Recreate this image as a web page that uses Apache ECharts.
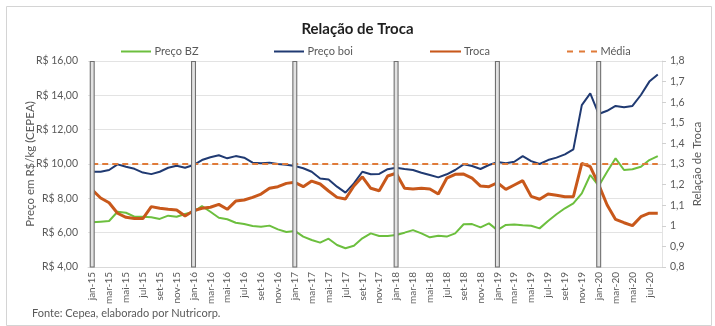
<!DOCTYPE html>
<html>
<head>
<meta charset="utf-8">
<script src="https://cdn.jsdelivr.net/npm/echarts@6/dist/echarts.min.js"></script>
<style>
  html, body { margin: 0; padding: 0; background: #ffffff; }
  #chart { width: 715px; height: 326px; }
</style>
</head>
<body>
<div id="chart"></div>
<script>
// Month labels (Portuguese abbreviations) and years covered: jan-15 .. ago-20
const monthNames = ['jan', 'fev', 'mar', 'abr', 'mai', 'jun', 'jul', 'ago', 'set', 'out', 'nov', 'dez'];
const years = ['15', '16', '17', '18', '19', '20'];
const lastMonthOfLastYear = 8; // series ends in ago-20

// Preço BZ (R$/kg, CEPEA)
const precoBZ = [
  6.60, 6.64, 6.68, 7.22, 7.16, 6.93, 6.93, 6.90, 6.80, 6.99, 6.93, 7.09,
  7.20, 7.55, 7.22, 6.87, 6.78, 6.58, 6.50, 6.39, 6.35, 6.41, 6.19, 6.04,
  6.10, 5.77, 5.57, 5.42, 5.65, 5.28, 5.09, 5.24, 5.67, 5.96, 5.81, 5.81,
  5.86, 6.00, 6.15, 5.96, 5.73, 5.82, 5.77, 5.96, 6.49, 6.50, 6.31, 6.54,
  6.15, 6.45, 6.48, 6.43, 6.40, 6.25, 6.68, 7.07, 7.42, 7.71, 8.29, 9.36,
  8.72, 9.55, 10.33, 9.65, 9.69, 9.84, 10.23, 10.46
];

// Preço boi (R$/kg, CEPEA)
const precoBoi = [
  9.55, 9.55, 9.65, 9.98, 9.84, 9.72, 9.50, 9.41, 9.55, 9.78, 9.90, 9.78,
  9.94, 10.23, 10.39, 10.51, 10.33, 10.46, 10.37, 10.08, 10.04, 10.08, 10.00, 9.96,
  9.88, 9.75, 9.55, 9.16, 9.10, 8.68, 8.33, 8.87, 9.55, 9.40, 9.42, 9.70,
  9.78, 9.71, 9.65, 9.49, 9.36, 9.22, 9.40, 9.65, 9.98, 9.88, 9.71, 9.94,
  10.11, 10.04, 10.13, 10.46, 10.17, 10.00, 10.23, 10.37, 10.56, 10.85, 13.43, 14.11,
  12.91, 13.10, 13.38, 13.30, 13.38, 14.02, 14.80, 15.22
];

// Relação de troca (eixo direito)
const troca = [
  1.174, 1.135, 1.112, 1.061, 1.041, 1.035, 1.035, 1.093, 1.085, 1.080, 1.077, 1.048,
  1.073, 1.085, 1.090, 1.104, 1.080, 1.120, 1.125, 1.138, 1.154, 1.182, 1.190, 1.206,
  1.211, 1.190, 1.217, 1.203, 1.169, 1.138, 1.130, 1.193, 1.238, 1.182, 1.170, 1.242,
  1.255, 1.182, 1.179, 1.182, 1.179, 1.154, 1.231, 1.250, 1.251, 1.231, 1.193, 1.190,
  1.209, 1.177, 1.198, 1.219, 1.143, 1.129, 1.154, 1.148, 1.141, 1.141, 1.303, 1.287,
  1.200, 1.101, 1.031, 1.015, 1.001, 1.044, 1.061, 1.061
];

// Média da relação de troca no período
const mediaTroca = 1.3;

// Year separators: a marker column at each January
const yearMarkerTop = 16;

// Axis tick settings
const leftAxisTicks = { min: 4, max: 16, interval: 2 };
const rightAxisTicks = { min: 0.8, max: 1.8, interval: 0.1 };

const categories = [];
years.forEach((y, yi) => {
  const n = yi === years.length - 1 ? lastMonthOfLastYear : 12;
  for (let m = 0; m < n; m++) categories.push(monthNames[m] + '-' + y);
});
const yearMarkers = categories.map(c => (c.startsWith('jan-') ? yearMarkerTop : null));

const FONT = 'Lato';
const TXT = '#595959';

// Legend keys: plain strokes, and a dashed one for the average
const SOLID_ICON = 'path://M0,0H30V2H0Z';
const DASH_ICON = 'path://M0,0H6V2H0Z M12,0H18V2H12Z M24,0H30V2H24Z';

const chart = echarts.init(document.getElementById('chart'), null, { renderer: 'canvas' });

function legendAt(left, name, icon, h) {
  return {
    left: left,
    top: 41,
    itemWidth: 31,
    itemHeight: h,
    itemGap: 0,
    icon: icon,
    data: [name],
    textStyle: { fontFamily: FONT, fontSize: 11, color: TXT, padding: [0, 0, 0, -2] },
    selectedMode: false
  };
}

chart.setOption({
  animation: false,
  backgroundColor: '#ffffff',
  title: {
    text: 'Relação de Troca',
    left: 'center',
    top: 17,
    textStyle: { fontFamily: FONT, fontSize: 15, fontWeight: 'bold', color: '#1f1f1f' }
  },
  legend: [
    legendAt(116, 'Preço BZ', SOLID_ICON, 2),
    legendAt(269, 'Preço boi', SOLID_ICON, 2),
    legendAt(425, 'Troca', SOLID_ICON, 3),
    legendAt(562, 'Média', DASH_ICON, 2)
  ],
  grid: { left: 88, right: 53, top: 61, bottom: 59, containLabel: false },
  xAxis: {
    type: 'category',
    data: categories,
    boundaryGap: true,
    axisLine: { show: true, lineStyle: { color: '#d9d9d9' } },
    axisTick: { show: false },
    axisLabel: {
      interval: 1,
      rotate: 90,
      margin: 5,
      fontFamily: FONT,
      fontSize: 10,
      color: TXT
    },
    splitLine: { show: false }
  },
  yAxis: [
    {
      type: 'value',
      min: leftAxisTicks.min,
      max: leftAxisTicks.max,
      interval: leftAxisTicks.interval,
      name: 'Preço em R$/kg (CEPEA)',
      nameLocation: 'middle',
      nameRotate: 90,
      nameGap: 52,
      nameMoveOverlap: false,
      nameTextStyle: { fontFamily: FONT, fontSize: 11.5, color: TXT },
      axisLine: { show: false },
      axisTick: { show: false },
      axisLabel: {
        margin: 10,
        fontFamily: FONT,
        fontSize: 10.5,
        color: TXT,
        formatter: v => 'R$ ' + v.toFixed(2).replace('.', ',')
      },
      splitLine: { show: true, lineStyle: { color: '#e3e3e3', width: 1 } }
    },
    {
      type: 'value',
      position: 'right',
      min: rightAxisTicks.min,
      max: rightAxisTicks.max,
      interval: rightAxisTicks.interval,
      name: 'Relação de Troca',
      nameLocation: 'middle',
      nameRotate: 90,
      nameGap: 29,
      nameMoveOverlap: false,
      nameTextStyle: { fontFamily: FONT, fontSize: 11.5, color: TXT },
      axisLine: { show: true, lineStyle: { color: '#e3e3e3' } },
      axisTick: { show: true, length: 4, lineStyle: { color: '#d0d0d0' } },
      axisLabel: {
        margin: 8,
        fontFamily: FONT,
        fontSize: 10.5,
        color: TXT,
        formatter: v => String(Math.round(v * 10) / 10).replace('.', ',')
      },
      splitLine: { show: false }
    }
  ],
  series: [
    {
      name: 'Preço BZ',
      type: 'line',
      yAxisIndex: 0,
      data: precoBZ,
      symbol: 'none',
      lineStyle: { color: '#6cbf3e', width: 2 },
      itemStyle: { color: '#6cbf3e' },
      z: 3
    },
    {
      name: 'Preço boi',
      type: 'line',
      yAxisIndex: 0,
      data: precoBoi,
      symbol: 'none',
      lineStyle: { color: '#203a72', width: 2 },
      itemStyle: { color: '#203a72' },
      z: 3
    },
    {
      name: 'Troca',
      type: 'line',
      yAxisIndex: 1,
      data: troca,
      symbol: 'none',
      lineStyle: { color: '#c8581b', width: 3 },
      itemStyle: { color: '#c8581b' },
      z: 4
    },
    {
      name: 'Média',
      type: 'line',
      yAxisIndex: 1,
      data: [],
      symbol: 'none',
      lineStyle: { color: '#e07b39', width: 2, type: [6, 4] },
      itemStyle: { color: '#e07b39' },
      markLine: {
        silent: true,
        symbol: 'none',
        label: { show: false },
        lineStyle: { color: '#e07b39', width: 2, type: [6, 4] },
        data: [[
          { coord: [categories[0], mediaTroca] },
          { coord: [categories[categories.length - 1], mediaTroca] }
        ]]
      },
      z: 2
    },
    {
      name: 'Ano',
      type: 'bar',
      yAxisIndex: 0,
      data: yearMarkers,
      barWidth: 5,
      clip: true,
      itemStyle: { color: '#e2e2e2', borderColor: '#707070', borderWidth: 1.1 },
      z: 6,
      silent: true
    }
  ],
  graphic: [
    {
      type: 'rect',
      left: 4, top: 4,
      shape: { width: 705, height: 319 },
      style: { fill: 'none', stroke: '#d4d4d4', lineWidth: 1 },
      silent: true
    },
    {
      type: 'text',
      left: 32, top: 308,
      style: { text: 'Fonte: Cepea, elaborado por Nutricorp.', font: '11px Lato', fill: TXT }
    }
  ]
});
</script>
</body>
</html>
